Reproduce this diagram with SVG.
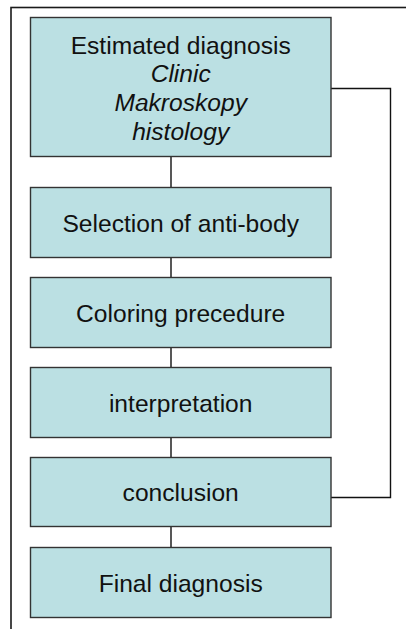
<svg xmlns="http://www.w3.org/2000/svg" width="406" height="629" viewBox="0 0 406 629">
<style>
.box{fill:#bbe0e3;stroke:#333;stroke-width:1.4}
.lbl{font-family:"Liberation Sans",Arial,sans-serif;font-size:24.6px;fill:#111;text-anchor:middle}
.it{font-style:italic}
.con{fill:none;stroke:#111;stroke-width:1.4}
</style>
<rect x="0" y="0" width="406" height="629" fill="#fff"/>
<rect x="11" y="7.5" width="410" height="640" fill="none" stroke="#1a1a1a" stroke-width="1.6"/>
<g id="connectors">
<line class="con" x1="171" y1="156.5" x2="171" y2="187.5"/>
<line class="con" x1="171" y1="257.5" x2="171" y2="277.5"/>
<line class="con" x1="171" y1="347.5" x2="171" y2="367.5"/>
<line class="con" x1="171" y1="437.5" x2="171" y2="457.5"/>
<line class="con" x1="171" y1="526.5" x2="171" y2="547.5"/>
<path class="con" d="M331 88.5 H390.5 V497.5 H331"/>
</g>
<g id="estimated">
<rect class="box" x="30.5" y="17.5" width="300.5" height="139"/>
<text class="lbl" x="180.7" y="53.5">Estimated diagnosis</text>
<text class="lbl it" x="180.7" y="82.3">Clinic</text>
<text class="lbl it" x="180.7" y="111.1">Makroskopy</text>
<text class="lbl it" x="180.7" y="139.9">histology</text>
</g>
<g id="selection">
<rect class="box" x="30.5" y="187.5" width="300.5" height="70"/>
<text class="lbl" x="180.7" y="231.5">Selection of anti-body</text>
</g>
<g id="coloring">
<rect class="box" x="30.5" y="277.5" width="300.5" height="70"/>
<text class="lbl" x="180.7" y="321.5">Coloring precedure</text>
</g>
<g id="interpretation">
<rect class="box" x="30.5" y="367.5" width="300.5" height="70"/>
<text class="lbl" x="180.7" y="411.5">interpretation</text>
</g>
<g id="conclusion">
<rect class="box" x="30.5" y="457.5" width="300.5" height="69"/>
<text class="lbl" x="180.7" y="501">conclusion</text>
</g>
<g id="final">
<rect class="box" x="30.5" y="547.5" width="300.5" height="70"/>
<text class="lbl" x="180.7" y="591.5">Final diagnosis</text>
</g>
</svg>
